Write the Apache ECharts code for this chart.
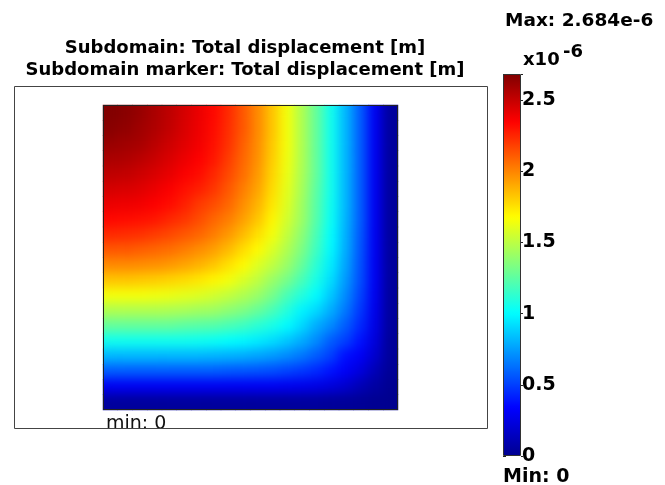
<!DOCTYPE html>
<html>
<head>
<meta charset="utf-8">
<script src="https://cdn.jsdelivr.net/npm/echarts@6/dist/echarts.min.js"></script>
<style>
  html, body { margin: 0; background: #fff; }
  #wrap { position: relative; width: 665px; height: 485px; }
  #chart { position: absolute; left: 0; top: 0; width: 665px; height: 485px; }
  /* smooth overlay for the field, kept inside the square's border */
  #clip { position: absolute; left: 104px; top: 106px; width: 293px; height: 303px; overflow: hidden; }
  #field { width: 293px; height: 303px; filter: url(#smooth); }
</style>
</head>
<body>
<svg width="0" height="0" style="position:absolute">
  <defs>
    <filter id="smooth" x="-20%" y="-20%" width="140%" height="140%" color-interpolation-filters="sRGB">
      <feGaussianBlur stdDeviation="5.5"/>
      <feComponentTransfer>
        <feFuncA type="discrete" tableValues="0 1 1 1 1 1 1 1 1 1"/>
      </feComponentTransfer>
    </filter>
  </defs>
</svg>
<div id="wrap">
  <div id="chart"></div>
  <div id="clip"><div id="field"></div></div>
</div>
<script>
// cell centres across the square (fraction of width, left -> right)
const xCells = ['0.025', '0.075', '0.125', '0.175', '0.225', '0.275', '0.325', '0.375', '0.425', '0.475',
                '0.525', '0.575', '0.625', '0.675', '0.725', '0.775', '0.825', '0.875', '0.925', '0.975'];
// cell centres down the square (fraction of height, top -> bottom)
const yCells = ['0.025', '0.075', '0.125', '0.175', '0.225', '0.275', '0.325', '0.375', '0.425', '0.475',
                '0.525', '0.575', '0.625', '0.675', '0.725', '0.775', '0.825', '0.875', '0.925', '0.975'];

// total displacement, x1e-6 m, one row per yCell
const displacement = [
  [2.68, 2.66, 2.62, 2.57, 2.52, 2.46, 2.40, 2.33, 2.24, 2.12, 1.99, 1.83, 1.65, 1.47, 1.27, 1.05, 0.82, 0.58, 0.30, 0.04],
  [2.66, 2.64, 2.60, 2.56, 2.51, 2.45, 2.39, 2.32, 2.23, 2.12, 1.99, 1.83, 1.65, 1.47, 1.27, 1.05, 0.82, 0.58, 0.30, 0.04],
  [2.62, 2.60, 2.58, 2.53, 2.48, 2.43, 2.38, 2.31, 2.22, 2.10, 1.98, 1.82, 1.65, 1.47, 1.27, 1.05, 0.82, 0.58, 0.30, 0.04],
  [2.57, 2.56, 2.53, 2.49, 2.45, 2.40, 2.35, 2.29, 2.19, 2.08, 1.97, 1.81, 1.64, 1.47, 1.27, 1.05, 0.82, 0.58, 0.30, 0.04],
  [2.52, 2.51, 2.48, 2.45, 2.41, 2.36, 2.32, 2.25, 2.16, 2.06, 1.95, 1.79, 1.63, 1.46, 1.27, 1.05, 0.82, 0.58, 0.30, 0.04],
  [2.46, 2.45, 2.43, 2.40, 2.36, 2.31, 2.27, 2.21, 2.12, 2.02, 1.92, 1.77, 1.61, 1.45, 1.25, 1.05, 0.82, 0.58, 0.30, 0.04],
  [2.40, 2.39, 2.38, 2.35, 2.32, 2.27, 2.20, 2.15, 2.08, 1.98, 1.88, 1.74, 1.59, 1.43, 1.24, 1.04, 0.82, 0.58, 0.30, 0.04],
  [2.33, 2.32, 2.31, 2.29, 2.25, 2.21, 2.15, 2.08, 2.02, 1.93, 1.83, 1.70, 1.56, 1.42, 1.23, 1.03, 0.81, 0.58, 0.30, 0.04],
  [2.24, 2.23, 2.22, 2.19, 2.16, 2.12, 2.08, 2.02, 1.95, 1.86, 1.76, 1.65, 1.52, 1.38, 1.20, 1.01, 0.80, 0.57, 0.30, 0.04],
  [2.12, 2.12, 2.10, 2.08, 2.06, 2.02, 1.98, 1.93, 1.86, 1.77, 1.69, 1.58, 1.47, 1.34, 1.17, 0.99, 0.79, 0.56, 0.30, 0.04],
  [1.99, 1.99, 1.98, 1.97, 1.95, 1.92, 1.88, 1.83, 1.76, 1.69, 1.59, 1.51, 1.41, 1.28, 1.12, 0.96, 0.77, 0.55, 0.30, 0.04],
  [1.83, 1.83, 1.82, 1.81, 1.79, 1.77, 1.74, 1.70, 1.65, 1.58, 1.51, 1.41, 1.32, 1.20, 1.07, 0.92, 0.74, 0.54, 0.30, 0.04],
  [1.65, 1.65, 1.65, 1.64, 1.63, 1.61, 1.59, 1.56, 1.52, 1.47, 1.41, 1.32, 1.20, 1.10, 1.00, 0.86, 0.70, 0.51, 0.29, 0.04],
  [1.47, 1.47, 1.47, 1.47, 1.46, 1.45, 1.43, 1.42, 1.38, 1.34, 1.28, 1.20, 1.10, 0.98, 0.91, 0.79, 0.65, 0.48, 0.28, 0.04],
  [1.27, 1.27, 1.27, 1.27, 1.27, 1.25, 1.24, 1.23, 1.20, 1.17, 1.12, 1.07, 1.00, 0.91, 0.79, 0.70, 0.58, 0.44, 0.26, 0.04],
  [1.05, 1.05, 1.05, 1.05, 1.05, 1.05, 1.04, 1.03, 1.01, 0.99, 0.96, 0.92, 0.86, 0.79, 0.70, 0.58, 0.50, 0.38, 0.23, 0.03],
  [0.82, 0.82, 0.82, 0.82, 0.82, 0.82, 0.82, 0.81, 0.80, 0.79, 0.77, 0.74, 0.70, 0.65, 0.58, 0.50, 0.37, 0.31, 0.19, 0.03],
  [0.58, 0.58, 0.58, 0.58, 0.58, 0.58, 0.58, 0.58, 0.57, 0.56, 0.55, 0.54, 0.51, 0.48, 0.44, 0.38, 0.31, 0.23, 0.12, 0.02],
  [0.30, 0.30, 0.30, 0.30, 0.30, 0.30, 0.30, 0.30, 0.30, 0.30, 0.30, 0.30, 0.29, 0.28, 0.26, 0.23, 0.19, 0.12, 0.06, 0.01],
  [0.04, 0.04, 0.04, 0.04, 0.04, 0.04, 0.04, 0.04, 0.04, 0.04, 0.04, 0.04, 0.04, 0.04, 0.04, 0.03, 0.03, 0.02, 0.01, 0.00]
];

const minValue = 0;
const maxValue = 2.684;
const colorbarTicks = [0, 0.5, 1, 1.5, 2, 2.5];

// jet colormap
const jet = ['#00008f', '#0000ff', '#0080ff', '#00ffff', '#80ff80', '#ffff00', '#ff8000', '#ff0000', '#800000'];

const cells = [];
displacement.forEach((row, j) => {
  row.forEach((v, i) => cells.push([i, j, v]));
});

const font = '"DejaVu Sans", sans-serif';

const heatmapSeries = {
  type: 'heatmap',
  xAxisIndex: 0,
  yAxisIndex: 0,
  data: cells,
  itemStyle: { borderWidth: 0 },
  emphasis: { disabled: true }
};

const chart = echarts.init(document.getElementById('chart'));
chart.setOption({
  animation: false,
  backgroundColor: 'transparent',
  grid: [
    { left: 103, top: 105, width: 295, height: 305 },
    { left: 503, top: 74, width: 18, height: 382 }
  ],
  xAxis: [
    { type: 'category', gridIndex: 0, data: xCells, show: false },
    { type: 'value', gridIndex: 1, show: false, min: 0, max: 1 }
  ],
  yAxis: [
    { type: 'category', gridIndex: 0, data: yCells, inverse: true, show: false },
    {
      type: 'value', gridIndex: 1, position: 'left', min: minValue, max: maxValue, interval: 0.5,
      axisLine: { show: false }, splitLine: { show: false }, axisLabel: { show: false },
      axisTick: { show: true, inside: true, length: 3, lineStyle: { color: '#222' } }
    },
    {
      type: 'value', gridIndex: 1, position: 'right', min: minValue, max: maxValue, interval: 0.5,
      axisLine: { show: false }, splitLine: { show: false },
      axisTick: { show: true, inside: false, length: 2, lineStyle: { color: '#222' } },
      axisLabel: {
        margin: 1, color: '#000', fontFamily: font, fontSize: 19, fontWeight: 'bold',
        formatter: v => (colorbarTicks.some(t => Math.abs(t - v) < 1e-9) ? String(v) : '')
      }
    }
  ],
  visualMap: {
    type: 'continuous',
    seriesIndex: 0,
    min: minValue,
    max: maxValue,
    calculable: false,
    left: 503,
    top: 74,
    itemWidth: 18,
    itemHeight: 382,
    padding: 0,
    text: null,
    inRange: { color: jet }
  },
  series: [heatmapSeries],
  graphic: [
    { type: 'text', z: 10,
      style: { text: 'min: 0', x: 106, y: 434, textVerticalAlign: 'bottom',
               font: '19px ' + font, fill: '#111' } },
    { type: 'rect', shape: { x: 14.5, y: 86.5, width: 473, height: 342 }, z: 20,
      style: { fill: null, stroke: '#444', lineWidth: 1 } },
    { type: 'rect', shape: { x: 103.5, y: 105.5, width: 294, height: 304 }, z: 20,
      style: { fill: null, stroke: '#222', lineWidth: 1 } },
    { type: 'rect', shape: { x: 503.5, y: 74.5, width: 17, height: 381 }, z: 20,
      style: { fill: null, stroke: '#333', lineWidth: 1 } },
    { type: 'text', z: 10,
      style: { text: 'Subdomain: Total displacement [m]', x: 245, y: 57, textAlign: 'center',
               textVerticalAlign: 'bottom', font: 'bold 18px ' + font, fill: '#000' } },
    { type: 'text', z: 10,
      style: { text: 'Subdomain marker: Total displacement [m]', x: 245, y: 79, textAlign: 'center',
               textVerticalAlign: 'bottom', font: 'bold 18px ' + font, fill: '#000' } },
    { type: 'text', z: 10,
      style: { text: 'Max: 2.684e-6', x: 505, y: 31, textVerticalAlign: 'bottom',
               font: 'bold 18.5px ' + font, fill: '#000' } },
    { type: 'text', z: 10,
      style: { text: 'x10', x: 523, y: 69, textVerticalAlign: 'bottom',
               font: 'bold 18px ' + font, fill: '#000' } },
    { type: 'text', z: 10,
      style: { text: '-6', x: 563, y: 61, textVerticalAlign: 'bottom',
               font: 'bold 18px ' + font, fill: '#000' } },
    { type: 'text', z: 10,
      style: { text: 'Min: 0', x: 503, y: 487, textVerticalAlign: 'bottom',
               font: 'bold 19px ' + font, fill: '#000' } }
  ]
});

// same cells again, drawn under a soft blur so the field shades smoothly like the original
const field = echarts.init(document.getElementById('field'));
field.setOption({
  animation: false,
  backgroundColor: 'transparent',
  grid: { left: -1, top: -1, width: 295, height: 305 },
  xAxis: { type: 'category', data: xCells, show: false },
  yAxis: { type: 'category', data: yCells, inverse: true, show: false },
  visualMap: { type: 'continuous', show: false, min: minValue, max: maxValue, inRange: { color: jet } },
  series: [heatmapSeries]
});
</script>
</body>
</html>
